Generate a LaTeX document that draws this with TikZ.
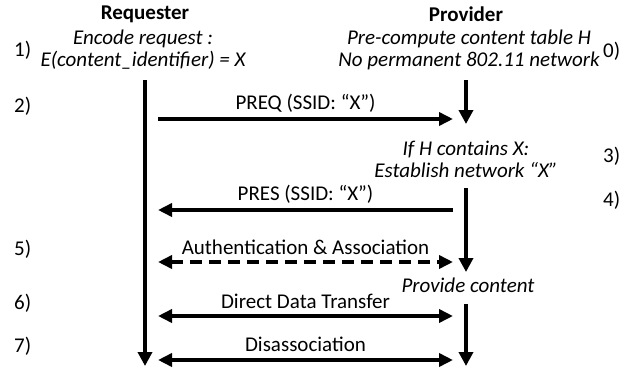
\documentclass[tikz,border=0pt]{standalone}
\usepackage{fontspec}
\setmainfont{Carlito}
\usetikzlibrary{arrows.meta}
\newcommand{\xreq}{145}
\newcommand{\xprov}{466}
\newcommand{\xl}{158}
\newcommand{\xr}{453}

\begin{document}
\begin{tikzpicture}[x=1pt,y=-1pt,
  txt/.style={font=\fontsize{21}{22}\selectfont},
  head/.style={font=\fontsize{21}{22}\selectfont\bfseries},
  note/.style={font=\fontsize{21}{22}\selectfont\itshape,align=center},
  num/.style={txt,anchor=west,inner sep=0pt},
  life/.style={line width=3.6pt,-{Triangle[length=14pt,width=14pt]}},
  msg/.style={line width=3.6pt,-{Triangle[length=14pt,width=13pt]}},
  both/.style={line width=3.6pt,{Triangle[length=14pt,width=13pt]}-{Triangle[length=14pt,width=13pt]}}]
\useasboundingbox (0,0) rectangle (634,375);

\node[head] (req) at (\xreq,14) {Requester};
\node[head] (prov) at (\xprov,14) {Provider};
\node[note] (enc) at (143,50) {Encode request :\\E(content\_identifier) = X};
\node[note] (pre) at (469,50) {Pre-compute content table H\\No permanent 802.11 network};
\node[note] (chk) at (466,159) {If H contains X:\\Establish network “X”};
\node[note] (give) at (468,285) {Provide content};

\node[num] (n0) at (603,51) {0)};
\node[num] (n1) at (14,50) {1)};
\node[num] (n2) at (14,106) {2)};
\node[num] (n3) at (603,156) {3)};
\node[num] (n4) at (603,200) {4)};
\node[num] (n5) at (14,249) {5)};
\node[num] (n6) at (14,303) {6)};
\node[num] (n7) at (14,346) {7)};

% lifelines
\coordinate (r0) at (\xreq,80);
\coordinate (r1) at (\xreq,366);
\coordinate (p0) at (\xprov,80);
\coordinate (p1) at (\xprov,124);
\coordinate (p2) at (\xprov,188);
\coordinate (p3) at (\xprov,272);
\coordinate (p4) at (\xprov,304);
\coordinate (p5) at (\xprov,366);
\draw[life] (r0) -- (r1);
\draw[life] (p0) -- (p1);
\draw[life] (p2) -- (p3);
\draw[life] (p4) -- (p5);

% messages
\coordinate (a0) at (\xl,119);  \coordinate (a1) at (\xr,119);
\coordinate (b0) at (\xl,210);  \coordinate (b1) at (\xr,210);
\coordinate (c0) at (\xl,262);  \coordinate (c1) at (\xr,262);
\coordinate (d0) at (\xl,316);  \coordinate (d1) at (\xr,316);
\coordinate (e0) at (\xl,360);  \coordinate (e1) at (\xr,360);
\draw[msg] (a0) -- node[txt,above=1pt] {PREQ (SSID: “X”)} (a1);
\draw[msg] (b1) -- node[txt,above=1pt] {PRES (SSID: “X”)} (b0);
\draw[both,dash pattern=on 12pt off 7pt] (c0) -- node[txt,above=2pt] {Authentication \& Association} (c1);
\draw[both] (d0) -- node[txt,above=2pt] {Direct Data Transfer} (d1);
\draw[both] (e0) -- node[txt,above=3pt] {Disassociation} (e1);
\end{tikzpicture}
\end{document}
